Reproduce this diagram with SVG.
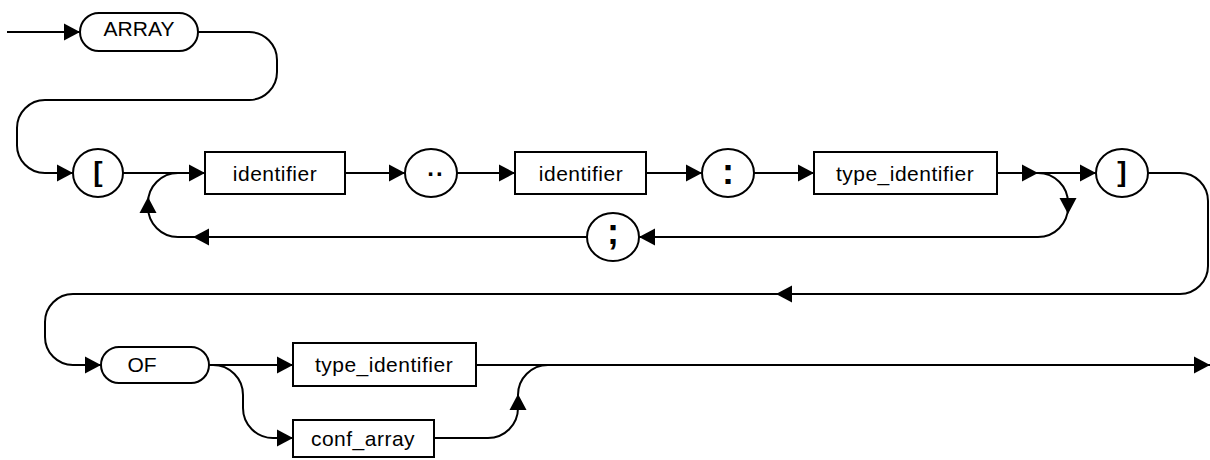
<svg xmlns="http://www.w3.org/2000/svg" xmlns:xlink="http://www.w3.org/1999/xlink" width="1210" height="460" viewBox="0 0 1210 460">
<style>
  .ln{fill:none;stroke:#000;stroke-width:2}
  .nd{fill:#fff;stroke:#000;stroke-width:2}
  .ah{fill:#000;stroke:none}
  text{font-family:"Liberation Sans",Arial,Helvetica,sans-serif;font-size:21px;fill:#000;text-anchor:middle}
  .lc{letter-spacing:0.5px}
  .sym{font-size:28px;font-weight:bold}
  .pn{font-size:36px;font-weight:bold}
</style>
<defs>
  <path id="ah" d="M0,0 L-16,-8.5 L-16,8.5 Z"/>
</defs>
<rect width="1210" height="460" fill="#fff"/>
<g id="connectors">
  <path class="ln" d="M7,32 H80"/>
  <path class="ln" d="M198,32 H249 A28,28 0 0 1 277,60 V72 A28,28 0 0 1 249,100 H45 A28,28 0 0 0 17,128 V144 A28,28 0 0 0 45,173 H73"/>
  <path class="ln" d="M123,173 H205"/>
  <path class="ln" d="M345,173 H405"/>
  <path class="ln" d="M457,173 H515"/>
  <path class="ln" d="M646,173 H702"/>
  <path class="ln" d="M754,173 H814"/>
  <path class="ln" d="M997,173 H1096"/>
  <path class="ln" d="M1038,173 A30,30 0 0 1 1068,203 V207 A30,30 0 0 1 1038,237 H639"/>
  <path class="ln" d="M588,237 H178 A30,30 0 0 1 148,207 V203 A30,30 0 0 1 178,173"/>
  <path class="ln" d="M1148,173 H1180 A28,28 0 0 1 1208,201 V266 A28,28 0 0 1 1180,294 H73 A28,28 0 0 0 45,322 V337 A28,28 0 0 0 73,365 H101"/>
  <path class="ln" d="M209,365 H293"/>
  <path class="ln" d="M213,365 A30,30 0 0 1 243,395 V408 A30,30 0 0 0 273,438 H293"/>
  <path class="ln" d="M476,365 H1210"/>
  <path class="ln" d="M434,438 H488 A30,30 0 0 0 518,408 V395 A30,30 0 0 1 548,365"/>
  <use xlink:href="#ah" class="ah" transform="translate(80,32)"/>
  <use xlink:href="#ah" class="ah" transform="translate(73,173)"/>
  <use xlink:href="#ah" class="ah" transform="translate(205,173)"/>
  <use xlink:href="#ah" class="ah" transform="translate(405,173)"/>
  <use xlink:href="#ah" class="ah" transform="translate(515,173)"/>
  <use xlink:href="#ah" class="ah" transform="translate(702,173)"/>
  <use xlink:href="#ah" class="ah" transform="translate(814,173)"/>
  <use xlink:href="#ah" class="ah" transform="translate(1038,173)"/>
  <use xlink:href="#ah" class="ah" transform="translate(1096,173)"/>
  <use xlink:href="#ah" class="ah" transform="translate(1068,214) rotate(90)"/>
  <use xlink:href="#ah" class="ah" transform="translate(639,237) rotate(180)"/>
  <use xlink:href="#ah" class="ah" transform="translate(193,237) rotate(180)"/>
  <use xlink:href="#ah" class="ah" transform="translate(148,197) rotate(-90)"/>
  <use xlink:href="#ah" class="ah" transform="translate(776,294) rotate(180)"/>
  <use xlink:href="#ah" class="ah" transform="translate(101,365)"/>
  <use xlink:href="#ah" class="ah" transform="translate(293,365)"/>
  <use xlink:href="#ah" class="ah" transform="translate(293,438)"/>
  <use xlink:href="#ah" class="ah" transform="translate(518,394) rotate(-90)"/>
  <use xlink:href="#ah" class="ah" transform="translate(1210,365)"/>
</g>
<g id="n-array">
  <rect class="nd" x="80" y="13" width="118" height="38" rx="19"/>
  <text x="139" y="36">ARRAY</text>
</g>
<g id="n-lbracket">
  <ellipse class="nd" cx="98" cy="173" rx="25" ry="24"/>
  <text class="sym" x="98" y="181">[</text>
</g>
<g id="n-identifier1">
  <rect class="nd" x="205" y="152" width="140" height="42"/>
  <text class="lc" x="275" y="181">identifier</text>
</g>
<g id="n-dotdot">
  <ellipse class="nd" cx="431" cy="173" rx="26" ry="24"/>
  <text x="436" y="176" style="font-size:24px;font-weight:bold;letter-spacing:2px">..</text>
</g>
<g id="n-identifier2">
  <rect class="nd" x="515" y="152" width="131" height="42"/>
  <text class="lc" x="581" y="181">identifier</text>
</g>
<g id="n-colon">
  <ellipse class="nd" cx="728" cy="173" rx="26" ry="24"/>
  <text class="pn" x="728" y="184">:</text>
</g>
<g id="n-typeid1">
  <rect class="nd" x="814" y="152" width="183" height="42"/>
  <text class="lc" x="905" y="181">type_identifier</text>
</g>
<g id="n-rbracket">
  <ellipse class="nd" cx="1122" cy="173" rx="26" ry="24"/>
  <text class="sym" x="1122" y="181">]</text>
</g>
<g id="n-semicolon">
  <ellipse class="nd" cx="613" cy="237" rx="26" ry="24"/>
  <text class="pn" x="613" y="244">;</text>
</g>
<g id="n-of">
  <rect class="nd" x="101" y="347" width="108" height="36" rx="18"/>
  <text x="142" y="372">OF</text>
</g>
<g id="n-typeid2">
  <rect class="nd" x="293" y="343" width="183" height="43"/>
  <text class="lc" x="384" y="372">type_identifier</text>
</g>
<g id="n-confarray">
  <rect class="nd" x="293" y="420" width="141" height="37"/>
  <text class="lc" x="363" y="446">conf_array</text>
</g>
</svg>
